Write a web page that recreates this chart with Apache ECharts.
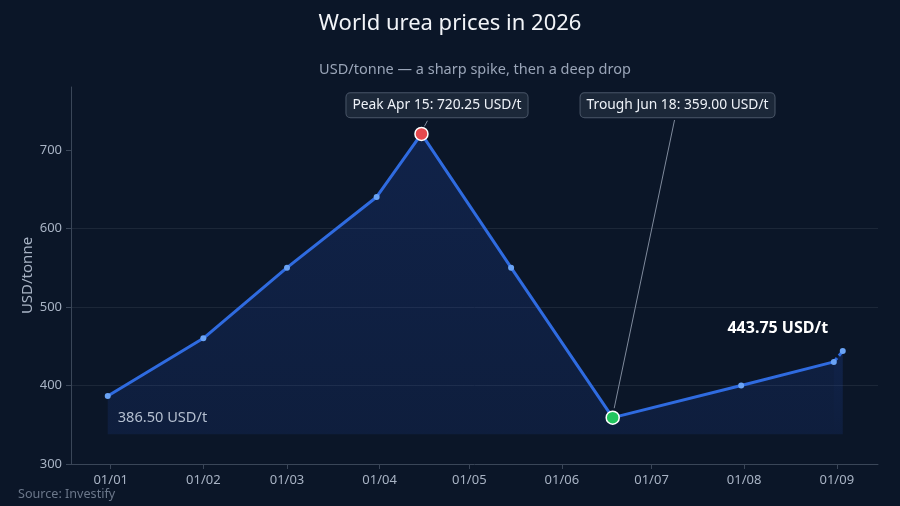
<!DOCTYPE html>
<html>
<head>
<meta charset="utf-8">
<script src="https://cdn.jsdelivr.net/npm/echarts@6/dist/echarts.min.js"></script>
<style>
html,body{margin:0;padding:0;background:#0b1628;}
#chart{width:900px;height:506px;}
</style>
</head>
<body>
<div id="chart"></div>
<script>
var dates = ['2025-12-31','2026-02-01','2026-03-01','2026-03-31','2026-04-15','2026-05-15','2026-06-18','2026-07-31','2026-08-31','2026-09-03'];
var prices = [386.5, 460, 550, 640, 720.25, 550, 359, 400, 430, 443.75];
var tickDates = ['2026-01-01','2026-02-01','2026-03-01','2026-04-01','2026-05-01','2026-06-01','2026-07-01','2026-08-01','2026-09-01'];
var yTicks = [300, 400, 500, 600, 700];
var peakIndex = 4;
var troughIndex = 6;

function ts(s){ var p = s.split('-'); return new Date(+p[0], +p[1]-1, +p[2]).getTime(); }
function pad(n){ return (n<10?'0':'')+n; }
var DAY = 86400000;

var font = 'Noto Sans';
var solidData = [];
for (var i = 0; i < dates.length - 1; i++) {
  var item = { value: [ts(dates[i]), prices[i]] };
  if (i === peakIndex) {
    item.symbolSize = 13;
    item.itemStyle = { color: '#e5484d', borderColor: '#ffffff', borderWidth: 1.5 };
  } else if (i === troughIndex) {
    item.symbolSize = 13;
    item.itemStyle = { color: '#22c55e', borderColor: '#ffffff', borderWidth: 1.5 };
  }
  if (i === 0) {
    item.label = {
      show: true, position: [13, 25], align: 'left', verticalAlign: 'middle',
      formatter: prices[0].toFixed(2) + ' USD/t', color: '#b4bfd0', fontSize: 14.6, fontFamily: font
    };
  }
  solidData.push(item);
}
var n = dates.length;
var dashData = [
  { value: [ts(dates[n-2]), prices[n-2]], symbolSize: 0 },
  { value: [ts(dates[n-1]), prices[n-1]], label: {
      show: true, position: 'top', offset: [-65, -7],
      formatter: prices[n-1].toFixed(2) + ' USD/t', color: '#ffffff', fontSize: 16, fontWeight: 'bold', fontFamily: font
  } }
];

var areaStyle = {
  origin: 338,
  color: new echarts.graphic.LinearGradient(0, 0, 0, 1, [
    { offset: 0, color: 'rgba(40,90,220,0.26)' },
    { offset: 1, color: 'rgba(40,90,220,0.17)' }
  ])
};

var boxLabel = {
  show: true, position: 'inside', color: '#eef2f8', fontSize: 13.8, fontFamily: font,
  backgroundColor: '#1c2839', borderColor: '#4a5668', borderWidth: 1, borderRadius: 4, padding: [5, 6]
};

var peakTs = ts(dates[peakIndex]);
var troughTs = ts(dates[troughIndex]);
var monthNames = ['Jan','Feb','Mar','Apr','May','Jun','Jul','Aug','Sep','Oct','Nov','Dec'];
function nice(s){ var p = s.split('-'); return monthNames[+p[1]-1] + ' ' + (+p[2]); }
var tickValues = tickDates.map(ts);

var chart = echarts.init(document.getElementById('chart'));
chart.setOption({
  backgroundColor: '#0b1628',
  animation: false,
  textStyle: { fontFamily: font },
  title: [
    { text: 'World urea prices in 2026', left: 'center', top: 8,
      textStyle: { color: '#f2f4f8', fontSize: 22, fontWeight: 'normal', fontFamily: font } },
    { text: 'USD/tonne — a sharp spike, then a deep drop', left: 470, textAlign: 'center', top: 57,
      textStyle: { color: '#9aa5b8', fontSize: 14.5, fontWeight: 'normal', fontFamily: font } },
    { text: 'Source: Investify', left: 13, top: 483,
      textStyle: { color: '#6b778a', fontSize: 12.6, fontWeight: 'normal', fontFamily: font } }
  ],
  grid: { left: 71, right: 22, top: 87, bottom: 42 },
  xAxis: {
    type: 'value',
    min: ts('2025-12-18') + 17 * 3600000,
    max: ts('2026-09-14') + 19 * 3600000,
    axisLine: { show: true, lineStyle: { color: '#3a4658' } },
    axisTick: { show: true, length: 5, lineStyle: { color: '#3a4658' }, customValues: tickValues },
    axisLabel: {
      color: '#a8b3c4', fontSize: 13, fontFamily: font, margin: 10,
      customValues: tickValues,
      formatter: function (v) { var d = new Date(v); return pad(d.getDate()) + '/' + pad(d.getMonth() + 1); }
    },
    splitLine: { show: false }
  },
  yAxis: {
    type: 'value', min: 300, max: 780, interval: 100,
    name: 'USD/tonne', nameLocation: 'middle', nameGap: 36, nameMoveOverlap: false,
    nameTextStyle: { color: '#a8b3c4', fontSize: 15, fontFamily: font },
    axisLine: { show: true, lineStyle: { color: '#3a4658' } },
    axisTick: { show: true, length: 5, lineStyle: { color: '#3a4658' }, customValues: yTicks },
    axisLabel: { color: '#a8b3c4', fontSize: 13, fontFamily: font, margin: 9, customValues: yTicks },
    splitLine: { show: true, showMaxLine: false, showMinLine: false, lineStyle: { color: '#1c2738', width: 1 } }
  },
  series: [
    {
      type: 'line', data: solidData, z: 3,
      symbol: 'circle', symbolSize: 6, showSymbol: true,
      lineStyle: { color: '#2f6be0', width: 3 },
      itemStyle: { color: '#6aa3f5' },
      areaStyle: areaStyle,
      markPoint: {
        symbol: 'rect', symbolSize: 1, itemStyle: { color: 'rgba(0,0,0,0)' },
        data: [
          { coord: [peakTs + 5.2 * DAY, 756.7], label: Object.assign({}, boxLabel, {
              formatter: 'Peak ' + nice(dates[peakIndex]) + ': ' + prices[peakIndex].toFixed(2) + ' USD/t' }) },
          { coord: [troughTs + 21.7 * DAY, 756.7], label: Object.assign({}, boxLabel, {
              formatter: 'Trough ' + nice(dates[troughIndex]) + ': ' + prices[troughIndex].toFixed(2) + ' USD/t' }) }
        ]
      },
      markLine: {
        silent: true, symbol: ['none', 'arrow'], symbolSize: [0, 7],
        label: { show: false },
        lineStyle: { color: '#7f8a9c', width: 1, type: 'solid' },
        data: [
          [ { coord: [peakTs + 2.0 * DAY, 737] }, { coord: [peakTs + 1.0 * DAY, 730] } ],
          [ { coord: [troughTs + 20.7 * DAY, 738] }, { coord: [troughTs + 0.5 * DAY, 371] } ]
        ]
      }
    },
    {
      type: 'line', data: dashData, z: 3,
      symbol: 'circle', symbolSize: 6, showSymbol: true,
      lineStyle: { color: '#2f6be0', width: 3, type: [5, 3] },
      itemStyle: { color: '#6aa3f5' },
      areaStyle: areaStyle
    }
  ]
});
</script>
</body>
</html>
